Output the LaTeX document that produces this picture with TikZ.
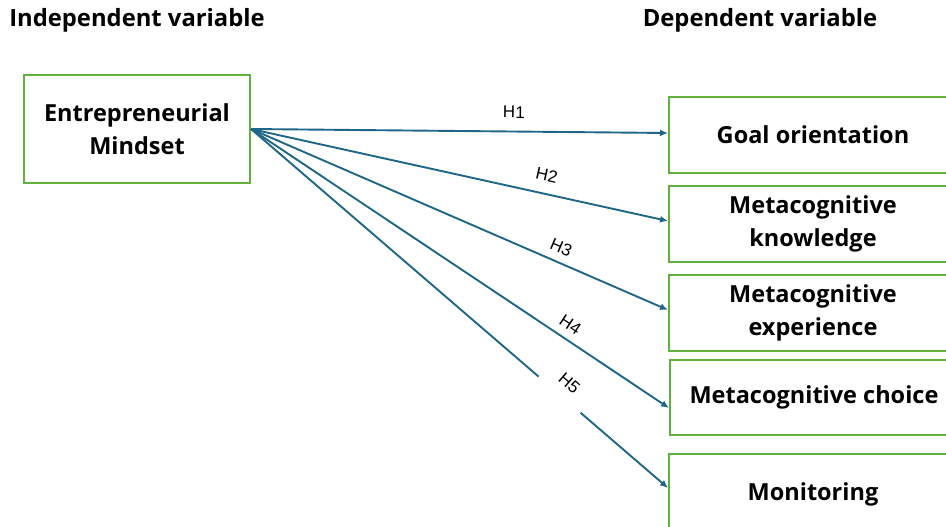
\documentclass[tikz,border=0pt]{standalone}
\usepackage{fontspec}
\usetikzlibrary{arrows.meta}
\setmainfont{Open Sans}
\newfontfamily\labfont{Liberation Sans}
\definecolor{boxgreen}{HTML}{62B13C}
\definecolor{arrblue}{HTML}{1F6788}
\begin{document}
\begin{tikzpicture}[x=1pt,y=-1pt,
  vbox/.style={draw=boxgreen,line width=2pt,fill=white,font=\fontsize{23.5}{33.5}\selectfont\bfseries,align=center,inner sep=0pt},
  rbox/.style={vbox,minimum width=288pt,minimum height=76pt,anchor=north west},
  title/.style={font=\fontsize{23.8}{28}\selectfont\bfseries,inner sep=0pt},
  arr/.style={draw=arrblue,line width=1.9pt,-{Latex[length=8pt,width=7pt]}},
  hlab/.style={font=\labfont\fontsize{17}{20}\selectfont,inner sep=1.5pt,sloped}
]
\useasboundingbox (0,0) rectangle (946,527);
\clip (0,0) rectangle (946,527);
\node[title] (ti) at (137,20) {Independent variable};
\node[title] (td) at (760,20) {Dependent variable};
\node[vbox,minimum width=226pt,minimum height=108pt] (em) at (137,129) {Entrepreneurial\\Mindset};
\node[rbox] (g) at (668,96) {Goal orientation};
\node[rbox] (k) at (668,185) {Metacognitive\\knowledge};
\node[rbox] (e) at (668,274) {Metacognitive\\experience};
\node[rbox,minimum height=75pt] (c) at (669,359) {Metacognitive choice};
\node[rbox,minimum height=80pt] (m) at (668,453) {Monitoring};
\coordinate (s) at (em.east);
\draw[arr] (s) -- (g.west |- 0,133) node[hlab,pos=0.63,above=11pt] (h1) {H1};
\draw[arr] (s) -- (k.west |- 0,221) node[hlab,pos=0.70,above=10pt] (h2) {H2};
\draw[arr] (s) -- (e.west |- 0,310) node[hlab,pos=0.73,above=6pt] (h3) {H3};
\draw[arr] (s) -- (c.west |- 0,408) node[hlab,pos=0.745,above=6pt] (h4) {H4};
\draw[arr] (s) -- (m.west |- 0,488) node[hlab,pos=0.74,above=-4pt,fill=white,minimum width=55pt,minimum height=36pt] (h5) {H5};
\end{tikzpicture}
\end{document}
